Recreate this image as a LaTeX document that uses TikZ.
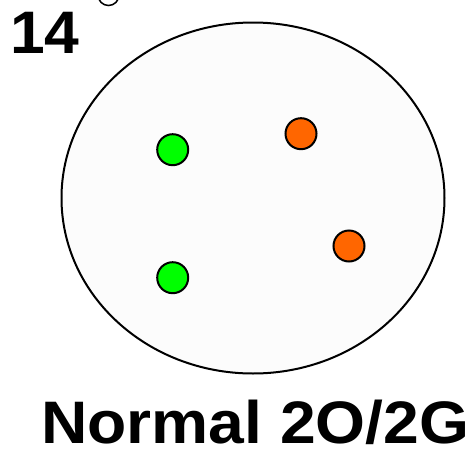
\documentclass[tikz,border=0pt]{standalone}
\usepackage{fontspec}
\setmainfont{Liberation Sans}
\usepackage{xcolor}
\usepackage{graphicx}
\usepackage{tikz}
\usetikzlibrary{shapes.geometric}

\definecolor{dishfill}{HTML}{FCFCFC}
\definecolor{greencell}{HTML}{00FF00}
\definecolor{orangecell}{HTML}{FF6600}

\begin{document}
\begin{tikzpicture}[x=1pt,y=-1pt]
\tikzstyle{dish}=[ellipse,draw=black,fill=dishfill,line width=2pt,minimum width=383pt,minimum height=351pt,inner sep=0pt]
\tikzstyle{cell}=[circle,draw=black,line width=2pt,minimum size=31pt,inner sep=0pt]
\tikzstyle{bigtext}=[inner sep=0pt,text depth=0pt,font=\fontsize{60}{66}\selectfont\bfseries]
\useasboundingbox (0,0) rectangle (472,453);
\node[circle,draw=black,line width=1.5pt,minimum size=21pt,inner sep=0pt] (stub) at (108.5,-5) {};
\node[bigtext,anchor=base west] (num) at (10,53) {\scalebox{1.04}[1]{14}};
\node[dish] (dish) at (253,198) {};
\node[cell,fill=greencell] (g1) at (172.7,149.7) {};
\node[cell,fill=greencell] (g2) at (172.7,277.7) {};
\node[cell,fill=orangecell] (o1) at (301,133.7) {};
\node[cell,fill=orangecell] (o2) at (349,246) {};
\node[bigtext,anchor=base west] (label) at (41,443) {\scalebox{1.07}[1]{Normal 2O/2G}};
\end{tikzpicture}
\end{document}
